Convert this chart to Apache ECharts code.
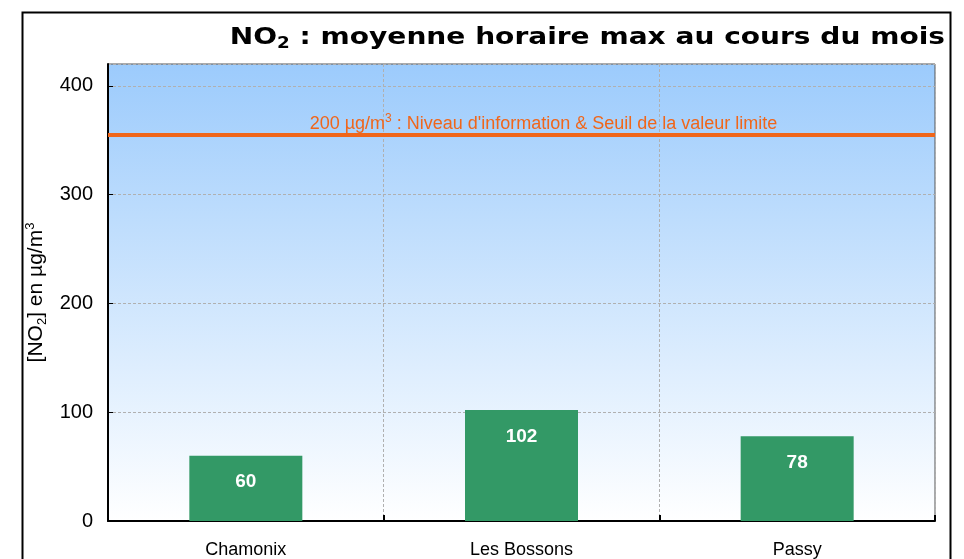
<!DOCTYPE html>
<html><head><meta charset="utf-8">
<script src="https://cdn.jsdelivr.net/npm/echarts@6/dist/echarts.min.js"></script>
<style>html,body{margin:0;padding:0;background:#fff}#c{width:964px;height:559px}</style>
</head><body><div id="c"></div>
<script>
const categories = ['Chamonix', 'Les Bossons', 'Passy'];
const values = [60, 102, 78];
const thresholdValue = 355;
const yTicks = [0, 100, 200, 300, 400];

const chart = echarts.init(document.getElementById('c'), null, {renderer: 'canvas'});
const F = 'Liberation Sans, Arial, sans-serif';
const TF = 'DejaVu Sans, Verdana, sans-serif';
chart.setOption({
  animation: false,
  backgroundColor: '#fff',
  graphic: [{
    type: 'rect', left: 20, top: 10, z: 100, silent: true,
    shape: {width: 928, height: 600},
    style: {fill: 'none', stroke: '#000', lineWidth: 2}
  }, {
    type: 'text', x: 945, y: 38, scaleX: 1.22, z: 100, silent: true,
    style: {
      text: '{a|NO}{s|2}{a| : moyenne horaire max au cours du mois}',
      align: 'right', verticalAlign: 'middle',
      rich: {
        a: {fontFamily: TF, fontWeight: 'bold', fontSize: 23, fill: '#000'},
        s: {fontFamily: TF, fontWeight: 'bold', fontSize: 15, fill: '#000', verticalAlign: 'bottom', padding: [12, 0, 0, 0]}
      }
    }
  }],
  grid: {
    left: 108, right: 29, top: 64, bottom: 37,
    show: true,
    borderColor: '#555', borderWidth: 1,
    backgroundColor: {
      type: 'linear', x: 0, y: 0, x2: 0, y2: 1,
      colorStops: [{offset: 0, color: '#9CCBFC'}, {offset: 1, color: '#FFFFFF'}]
    }
  },
  xAxis: {
    type: 'category', data: categories,
    axisLine: {lineStyle: {color: '#000', width: 2}},
    axisTick: {show: true, inside: true, length: 6, lineStyle: {color: '#000', width: 2}},
    axisLabel: {color: '#000', fontFamily: F, fontSize: 18, margin: 20},
    splitLine: {show: true, lineStyle: {color: '#B0B0B0', type: [3, 2], width: 1}}
  },
  yAxis: {
    type: 'value', min: 0, max: 420, interval: 100,
    name: '{t|[NO}{s|2}{t|] en µg/m}{p|3}',
    nameLocation: 'middle', nameRotate: 90, nameGap: 51,
    nameTextStyle: {
      rich: {
        t: {fontFamily: F, fontSize: 21, color: '#000'},
        s: {fontFamily: F, fontSize: 13, color: '#000', verticalAlign: 'bottom', padding: [10, 0, 0, 0]},
        p: {fontFamily: F, fontSize: 13, color: '#000', verticalAlign: 'top', padding: [0, 0, 12, 0]}
      }
    },
    axisLine: {show: true, lineStyle: {color: '#000', width: 2}},
    axisTick: {show: true, inside: true, length: 5, lineStyle: {color: '#000'}},
    axisLabel: {
      color: '#000', fontFamily: F, fontSize: 20, margin: 15, showMaxLabel: false,
      formatter: v => (yTicks.indexOf(v) >= 0 ? String(v) : '')
    },
    splitLine: {show: true, lineStyle: {color: '#B0B0B0', type: [3, 2], width: 1}}
  },
  series: [{
    type: 'bar', data: values, barWidth: 113,
    itemStyle: {color: '#339966'},
    label: {show: true, position: 'insideTop', distance: 17, color: '#fff', fontFamily: F, fontWeight: 'bold', fontSize: 19},
    markLine: {
      silent: true, symbol: ['none', 'none'],
      lineStyle: {color: '#F0661A', width: 4, type: 'solid', opacity: 1},
      label: {
        show: true, position: 'insideMiddleTop', distance: -1,
        formatter: '{t|200 µg/m}{p|3}{t| : Niveau d\'information & Seuil de la valeur limite}',
        rich: {
          t: {fontFamily: F, fontSize: 18, color: '#F0661A'},
          p: {fontFamily: F, fontSize: 12, color: '#F0661A', verticalAlign: 'top', padding: [0, 0, 11, 0]}
        },
        padding: [0, 0, 0, 44]
      },
      data: [{yAxis: thresholdValue}]
    }
  }]
});
</script></body></html>
